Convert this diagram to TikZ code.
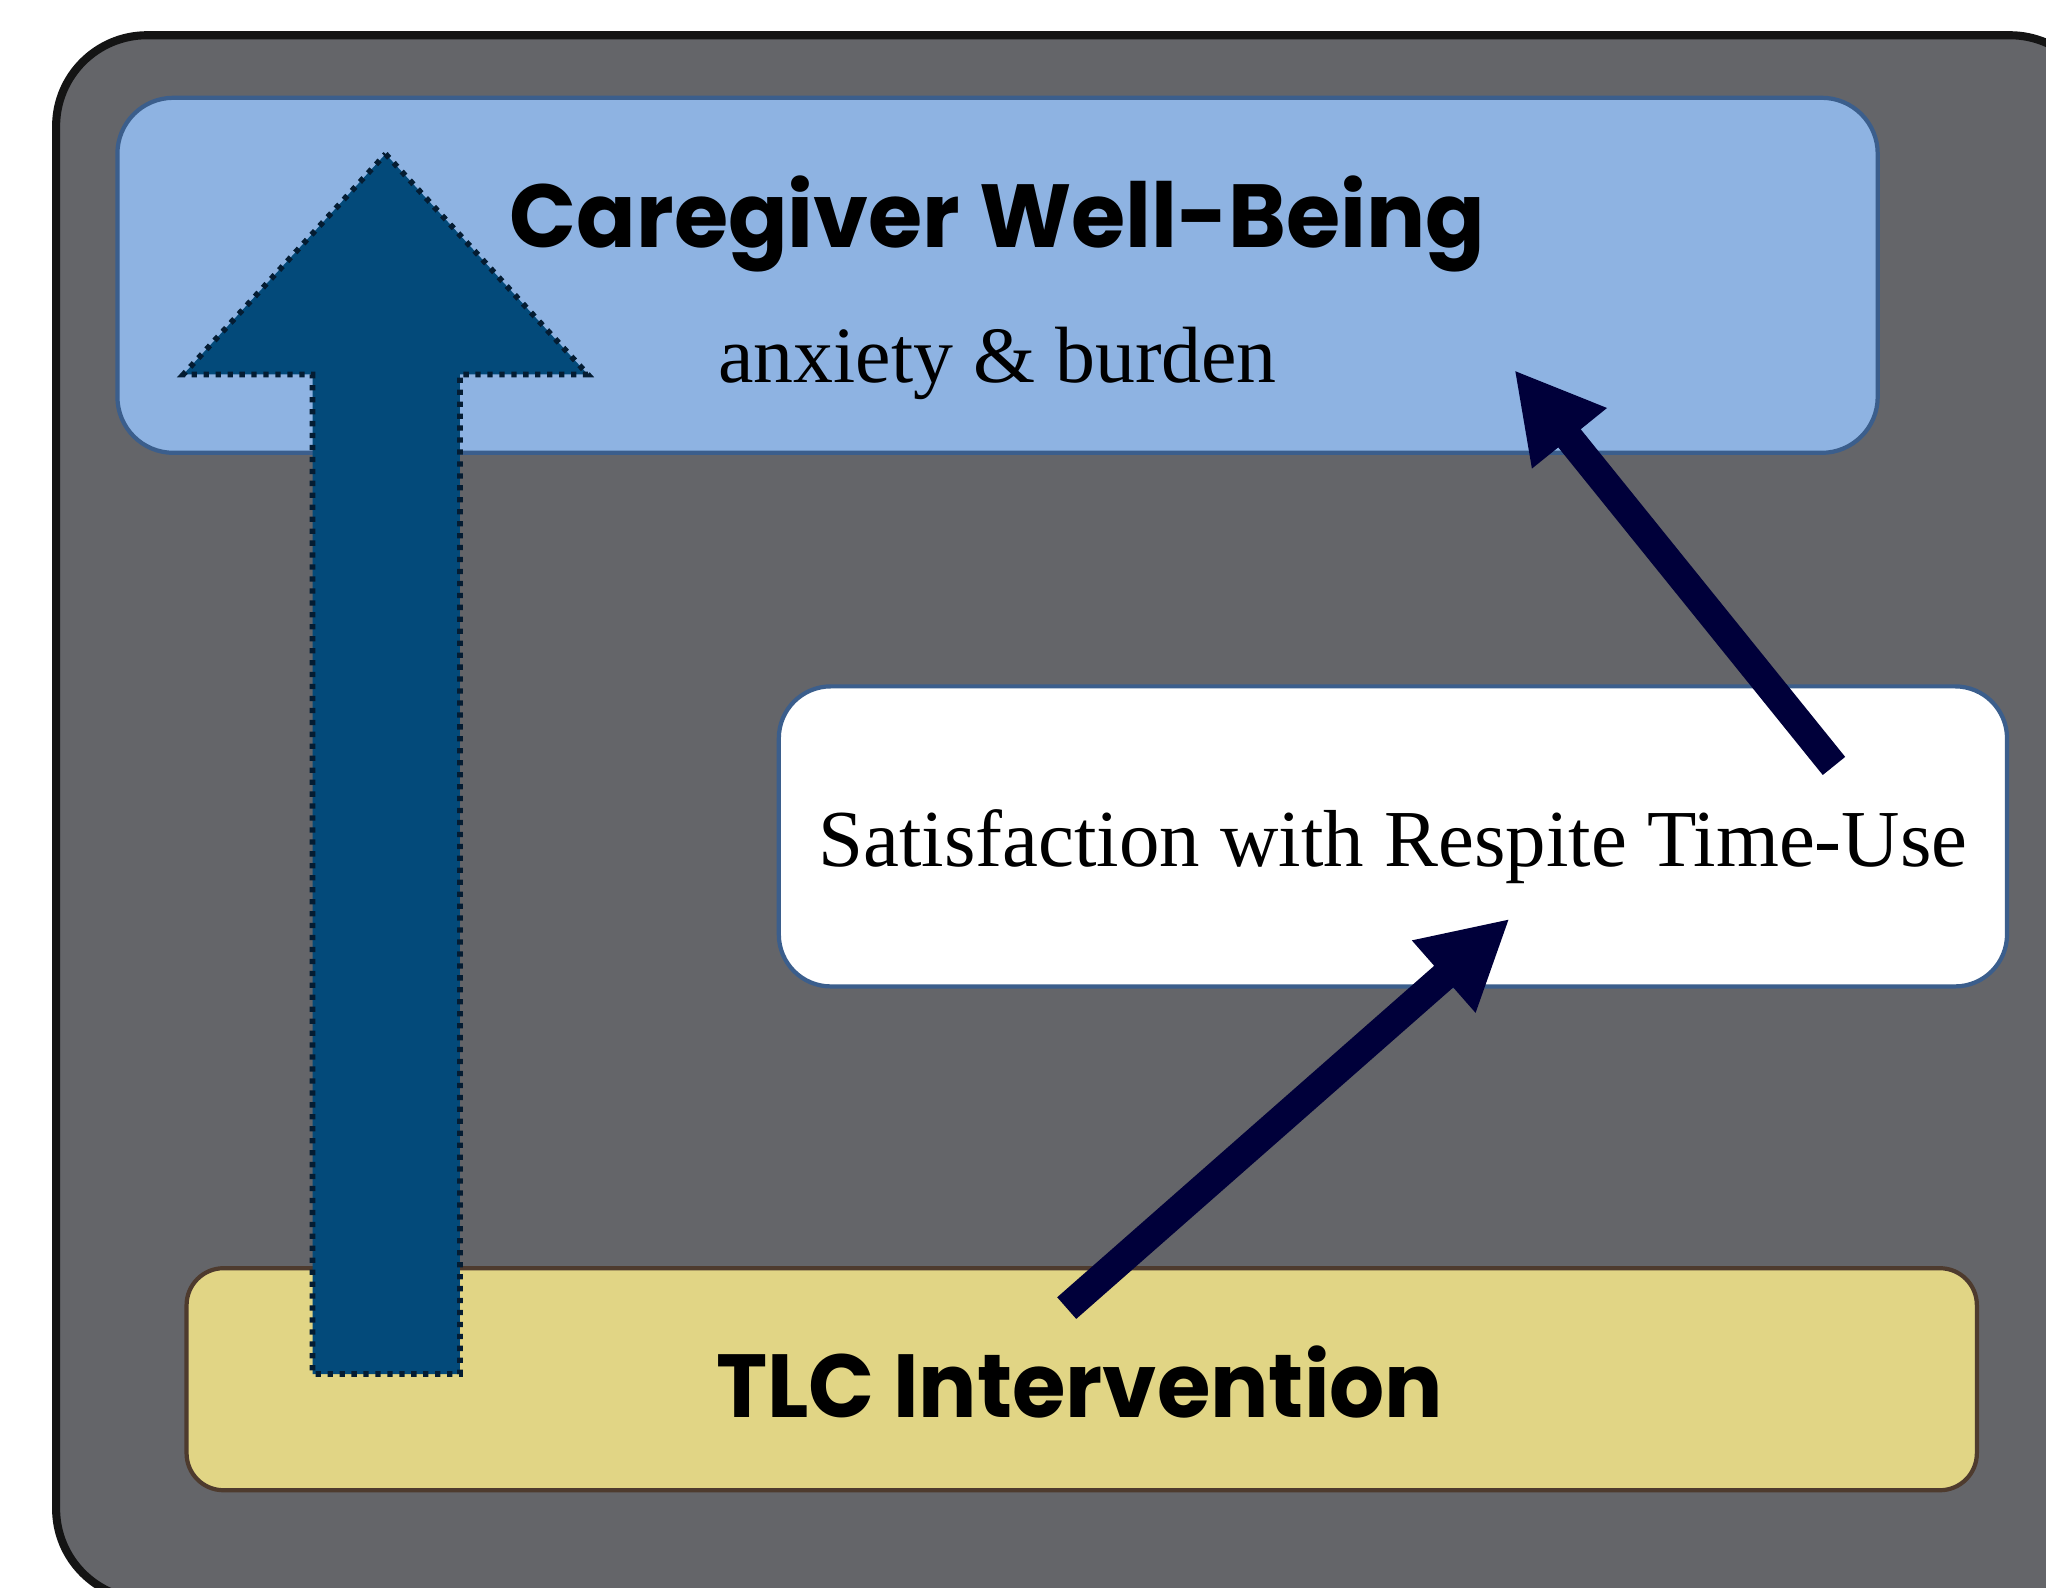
\documentclass[tikz,border=0pt]{standalone}
\usepackage{fontspec}
\setmainfont{Liberation Serif}
\newfontfamily\gothic{Poppins}
\usetikzlibrary{arrows.meta}

\definecolor{panelgray}{RGB}{100,101,105}
\definecolor{wellblue}{RGB}{142,179,226}
\definecolor{edgeblue}{RGB}{59,94,140}
\definecolor{tlcyellow}{RGB}{225,213,133}
\definecolor{tlcbrown}{RGB}{78,59,46}
\definecolor{upblue}{RGB}{3,74,122}
\definecolor{updots}{RGB}{4,28,50}
\definecolor{linknavy}{RGB}{0,0,58}

\begin{document}
\begin{tikzpicture}[x=0.01305cm,y=-0.01305cm,
    box/.style={draw=edgeblue,line width=1.2pt,inner sep=0pt},
    head/.style={anchor=base,inner sep=0pt,font=\gothic\bfseries},
    sub/.style={anchor=base,inner sep=0pt},
    bigarrow/.style={fill=upblue,draw=updots,line width=1.6pt,dash pattern=on 1.5pt off 1.9pt},
    link/.style={draw=linknavy,line width=8.2pt,-{Triangle[length=25pt,width=25.5pt]}}]
    \clip (0,0) rectangle (1568,1217);
    \fill[white] (0,0) rectangle (1568,1217);
    % panel behind everything
    \draw[fill=panelgray,draw=black!92,line width=2.3pt,rounded corners=0.91cm] (43,27) rectangle (1610,1226);

    \node[box,fill=wellblue,rounded corners=0.56cm,minimum width=17.6cm,minimum height=3.55cm] (wellbeing) at (764.5,211) {};
    \node[box,fill=tlcyellow,draw=tlcbrown,rounded corners=0.37cm,minimum width=17.9cm,minimum height=2.22cm] (tlc) at (829,1057) {};
    \node[box,fill=white,rounded corners=0.52cm,minimum width=12.28cm,minimum height=3cm] (respite) at (1067.5,641) {};

    \node[head] (wbtitle) at (764.5,190) {\resizebox{277.4pt}{20.4pt}{Caregiver Well-Being}};
    \node[sub,font=\fontsize{22.7}{27}\selectfont] (wbsub) at (764.5,293.5) {anxiety \& burden};
    \node[sub,font=\fontsize{23}{28}\selectfont] (respitetext) at (1067.5,664) {Satisfaction with Respite Time-Use};
    \node[head] (tlctext) at (827.5,1086) {\resizebox{206.8pt}{20.4pt}{TLC Intervention}};

    % direct effect
    \coordinate (uptip) at (295.5,118);
    \draw[bigarrow] (uptip) -- ++(155,169) -- ++(-98,0) -- ++(0,766) -- ++(-113,0) -- ++(0,-766) -- ++(-99,0) -- cycle;

    % mediated path
    \coordinate (tlcout) at (817.5,1002.5);
    \coordinate (respitein) at (1157,704);
    \coordinate (respiteout) at (1405.5,587);
    \coordinate (wellin) at (1160.5,283.5);
    \draw[link] (tlcout) -- (respitein);
    \draw[link] (respiteout) -- (wellin);
\end{tikzpicture}
\end{document}
